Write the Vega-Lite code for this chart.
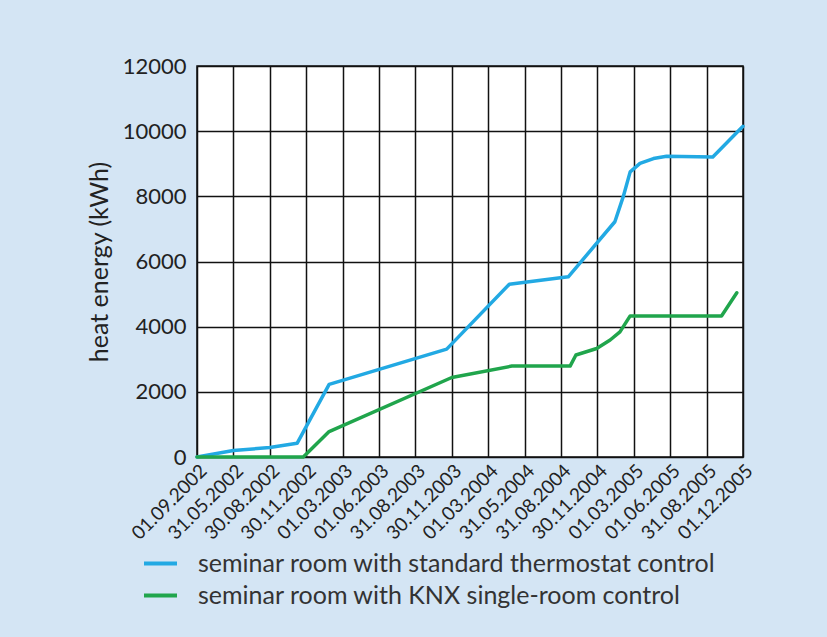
{
  "$schema": "https://vega.github.io/schema/vega-lite/v6.json",
  "autosize": "none",
  "width": 546,
  "height": 391,
  "padding": {"left": 197, "top": 66, "right": 84, "bottom": 180},
  "background": "#d4e5f4",
  "config": {
    "font": "Lato",
    "view": {"fill": "white", "stroke": "#111", "strokeWidth": 1.5}
  },
  "data": {
    "values": [
      {"series": "seminar room with standard thermostat control", "idx": 0, "kwh": 0},
      {"series": "seminar room with standard thermostat control", "idx": 1, "kwh": 200},
      {"series": "seminar room with standard thermostat control", "idx": 2, "kwh": 290},
      {"series": "seminar room with standard thermostat control", "idx": 2.75, "kwh": 420},
      {"series": "seminar room with standard thermostat control", "idx": 3.63, "kwh": 2230},
      {"series": "seminar room with standard thermostat control", "idx": 6.86, "kwh": 3310},
      {"series": "seminar room with standard thermostat control", "idx": 8.58, "kwh": 5300},
      {"series": "seminar room with standard thermostat control", "idx": 10.2, "kwh": 5530},
      {"series": "seminar room with standard thermostat control", "idx": 11.48, "kwh": 7220},
      {"series": "seminar room with standard thermostat control", "idx": 11.71, "kwh": 7990},
      {"series": "seminar room with standard thermostat control", "idx": 11.9, "kwh": 8750},
      {"series": "seminar room with standard thermostat control", "idx": 12.17, "kwh": 9010},
      {"series": "seminar room with standard thermostat control", "idx": 12.54, "kwh": 9160},
      {"series": "seminar room with standard thermostat control", "idx": 12.9, "kwh": 9230},
      {"series": "seminar room with standard thermostat control", "idx": 14.17, "kwh": 9210},
      {"series": "seminar room with standard thermostat control", "idx": 15, "kwh": 10150},
      {"series": "seminar room with KNX single-room control", "idx": 0, "kwh": 0},
      {"series": "seminar room with KNX single-room control", "idx": 2.92, "kwh": 0},
      {"series": "seminar room with KNX single-room control", "idx": 3.63, "kwh": 780},
      {"series": "seminar room with KNX single-room control", "idx": 7.0, "kwh": 2440},
      {"series": "seminar room with KNX single-room control", "idx": 8.65, "kwh": 2790},
      {"series": "seminar room with KNX single-room control", "idx": 10.25, "kwh": 2790},
      {"series": "seminar room with KNX single-room control", "idx": 10.41, "kwh": 3130},
      {"series": "seminar room with KNX single-room control", "idx": 10.98, "kwh": 3330},
      {"series": "seminar room with KNX single-room control", "idx": 11.35, "kwh": 3590},
      {"series": "seminar room with KNX single-room control", "idx": 11.62, "kwh": 3840},
      {"series": "seminar room with KNX single-room control", "idx": 11.9, "kwh": 4330},
      {"series": "seminar room with KNX single-room control", "idx": 14.41, "kwh": 4330},
      {"series": "seminar room with KNX single-room control", "idx": 14.83, "kwh": 5040}
    ]
  },
  "mark": {"type": "line", "strokeWidth": 3.5, "strokeJoin": "round", "strokeCap": "round"},
  "encoding": {
    "x": {
      "field": "idx",
      "type": "quantitative",
      "scale": {"domain": [0, 15], "nice": false},
      "axis": {
        "title": null,
        "values": [0,1,2,3,4,5,6,7,8,9,10,11,12,13,14,15],
        "labelExpr": "['01.09.2002','31.05.2002','30.08.2002','30.11.2002','01.03.2003','01.06.2003','31.08.2003','30.11.2003','01.03.2004','31.05.2004','31.08.2004','30.11.2004','01.03.2005','01.06.2005','31.08.2005','01.12.2005'][datum.value]",
        "labelAngle": -45,
        "labelFontSize": 19,
        "labelColor": "#222",
        "labelPadding": 4,
        "labelOverlap": false,
        "labelFlush": false,
        "ticks": false,
        "domain": false,
        "grid": true,
        "gridColor": "#111",
        "gridWidth": 1.5,
        "gridOpacity": 1
      }
    },
    "y": {
      "field": "kwh",
      "type": "quantitative",
      "scale": {"domain": [0, 12000], "nice": false},
      "axis": {
        "title": "heat energy (kWh)",
        "titleFontSize": 25,
        "titleFontWeight": "normal",
        "titleColor": "#222",
        "titlePadding": 10,
        "values": [0, 2000, 4000, 6000, 8000, 10000, 12000],
        "format": "d",
        "labelFontSize": 22,
        "labelColor": "#222",
        "labelPadding": 11,
        "ticks": false,
        "domain": false,
        "grid": true,
        "gridColor": "#111",
        "gridWidth": 1.5,
        "gridOpacity": 1
      }
    },
    "color": {
      "field": "series",
      "type": "nominal",
      "scale": {
        "domain": ["seminar room with standard thermostat control", "seminar room with KNX single-room control"],
        "range": ["#22a9e3", "#20a54c"]
      },
      "legend": {
        "title": null,
        "orient": "none",
        "legendX": -55,
        "legendY": 479,
        "symbolType": "stroke",
        "symbolSize": 1089,
        "symbolStrokeWidth": 4,
        "labelFontSize": 25,
        "labelColor": "#333",
        "labelOffset": 19,
        "rowPadding": 0,
        "labelLimit": 700
      }
    }
  }
}
